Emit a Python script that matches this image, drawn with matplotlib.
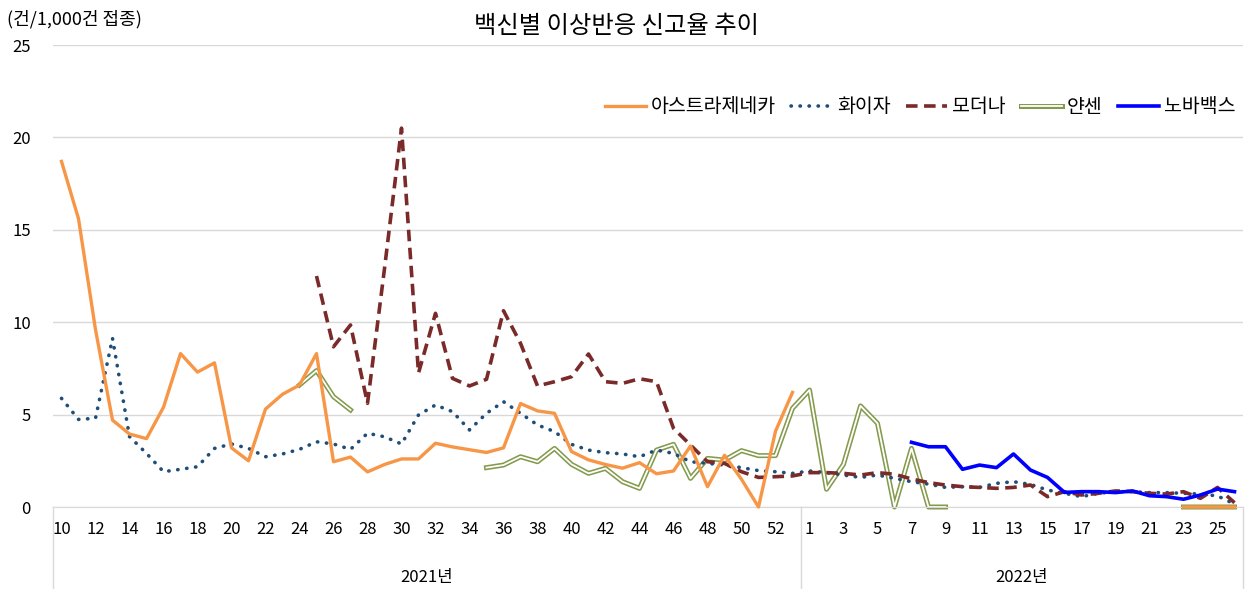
import matplotlib
matplotlib.use("Agg")
import matplotlib.pyplot as plt
import matplotlib.patheffects as pe
import matplotlib.transforms as mtransforms
import numpy as np

plt.rcParams['font.family'] = ['Noto Sans CJK KR', 'DejaVu Sans']

# 주차 (2021년 10~53주, 2022년 1~26주)
weeks_2021 = list(range(10, 54))
weeks_2022 = list(range(1, 27))
years = ["2021년", "2022년"]

# 백신별 이상반응 신고율 (건/1,000건 접종)
az = [18.7, 15.6, 9.6, 4.7, 3.95, 3.7, 5.4, 8.3, 7.3, 7.8, 3.2, 2.5, 5.3, 6.1, 6.6,
      8.3, 2.45, 2.7, 1.9, 2.3, 2.6, 2.6, 3.45, 3.25, 3.1, 2.95, 3.2, 5.6, 5.2, 5.07,
      3.0, 2.55, 2.3, 2.1, 2.4, 1.8, 1.95, 3.3, 1.1, 2.8, 1.5, 0.0, 4.1, 6.2] + \
     [None] * 22 + [0, 0, 0, 0]
pfizer = [5.88, 4.74, 4.8, 9.13, 3.81, 2.9, 1.91, 2.04, 2.18, 3.17, 3.41, 3.17, 2.72,
          2.87, 3.12, 3.53, 3.41, 3.12, 3.99, 3.8, 3.41, 4.98, 5.52, 5.16, 4.17, 5.07,
          5.7, 5.07, 4.44, 4.08, 3.39, 3.08, 2.94, 2.87, 2.72, 3.08, 2.9, 2.45, 2.36,
          2.27, 2.13, 1.97, 1.91, 1.82] + \
         [1.95, 1.86, 1.73, 1.6, 1.73, 1.55, 1.37, 1.24, 1.06, 1.1, 1.06, 1.28, 1.37,
          1.22, 0.92, 0.74, 0.56, 0.74, 0.83, 0.83, 0.78, 0.78, 0.74, 0.7, 0.6, 0.16]
moderna = [None] * 15 + \
          [12.5, 8.67, 9.85, 5.61, 12.9, 20.5, 7.25, 10.48, 6.96, 6.55, 6.91, 10.62,
           8.86, 6.55, 6.78, 7.05, 8.28, 6.78, 6.69, 6.94, 6.78, 4.26, 3.35, 2.45,
           2.36, 1.91, 1.6, 1.64, 1.68] + \
          [1.86, 1.86, 1.82, 1.73, 1.86, 1.77, 1.52, 1.32, 1.19, 1.1, 1.06, 1.01, 1.06,
           1.19, 0.56, 0.83, 0.65, 0.74, 0.87, 0.83, 0.74, 0.7, 0.83, 0.47, 1.06, 0.23]
janssen = [None] * 14 + [6.6, 7.38, 5.97, 5.25] + [None] * 7 + \
          [2.13, 2.27, 2.72, 2.45, 3.17, 2.31, 1.82, 2.09, 1.37, 1.01, 3.08, 3.39,
           1.55, 2.63, 2.54, 3.05, 2.78, 2.78, 5.34] + \
          [6.33, 0.96, 2.31, 5.47, 4.53, 0, 3.17, 0, 0] + [None] * 13 + [0, 0, 0, 0]
novavax = [None] * 44 + [None] * 6 + \
          [3.5, 3.26, 3.26, 2.04, 2.27, 2.13, 2.87, 2.0, 1.6, 0.79, 0.83, 0.83, 0.78,
           0.87, 0.61, 0.56, 0.42, 0.65, 0.97, 0.83]

labels = weeks_2021 + weeks_2022
x = np.arange(len(labels))

fig = plt.figure(figsize=(12.54, 5.89), dpi=100)
ax = fig.add_axes([53 / 1254, 82 / 589, 1190 / 1254, 462 / 589])

ax.plot(x, np.array(janssen, dtype=float), color='white', lw=1.3, label='얀센', zorder=2,
        clip_on=False,
        path_effects=[pe.Stroke(linewidth=3.6, foreground='#849a4c'), pe.Normal()])
ax.plot(x, np.array(pfizer, dtype=float), color='#1f4e79', lw=2.6, clip_on=False,
        linestyle=(0, (0.1, 2.4)), dash_capstyle='round', label='화이자', zorder=3)
ax.plot(x, np.array(moderna, dtype=float), color='#7b2a2a', lw=2.6, clip_on=False,
        linestyle=(0, (3.2, 1.8)), label='모더나', zorder=3)
ax.plot(x, np.array(az, dtype=float), color='#f79646', lw=2.4, label='아스트라제네카',
        zorder=4, clip_on=False)
ax.plot(x, np.array(novavax, dtype=float), color='#0000ff', lw=2.6, label='노바백스',
        zorder=5, clip_on=False)

ax.set_xlim(-0.5, len(labels) - 0.5)
ax.set_ylim(0, 25)
ax.set_yticks([0, 5, 10, 15, 20, 25])
ax.set_xticks(x[::2])
ax.set_xticklabels([str(w) for w in labels[::2]])
ax.tick_params(axis='x', length=0, pad=10, labelsize=12)
ax.tick_params(axis='y', length=0, pad=16, labelsize=12)
ax.grid(axis='y', color='#d9d9d9', lw=1)
ax.set_axisbelow(True)
for s in ['left', 'right', 'top']:
    ax.spines[s].set_visible(False)
ax.spines['bottom'].set_color('#d9d9d9')

trans = mtransforms.blended_transform_factory(ax.transData, ax.transAxes)
n21 = len(weeks_2021)
for xv in [-0.5, n21 - 0.5, len(labels) - 0.5]:
    ax.plot([xv, xv], [0, -0.178], transform=trans, color='#d9d9d9', lw=1, clip_on=False)
ax.text((n21 - 1) / 2, -0.152, years[0], transform=trans, ha='center', va='center', fontsize=12)
ax.text(n21 + (len(weeks_2022) - 1) / 2, -0.152, years[1], transform=trans,
        ha='center', va='center', fontsize=12)

handles, lbls = ax.get_legend_handles_labels()
order = [3, 1, 2, 0, 4]
ax.legend([handles[i] for i in order], [lbls[i] for i in order], ncol=5, frameon=False,
          loc='center right', bbox_to_anchor=(1.0, (507 - 107) / 462), fontsize=14,
          handlelength=2.1, handletextpad=0.25, columnspacing=0.8, borderaxespad=0)

fig.text(617 / 1254, 1 - 26 / 589, '백신별 이상반응 신고율 추이', ha='center', va='center', fontsize=17.5)
fig.text(7 / 1254, 1 - 19 / 589, '(건/1,000건 접종)', ha='left', va='center', fontsize=13)

fig.savefig('out.png', dpi=100)
